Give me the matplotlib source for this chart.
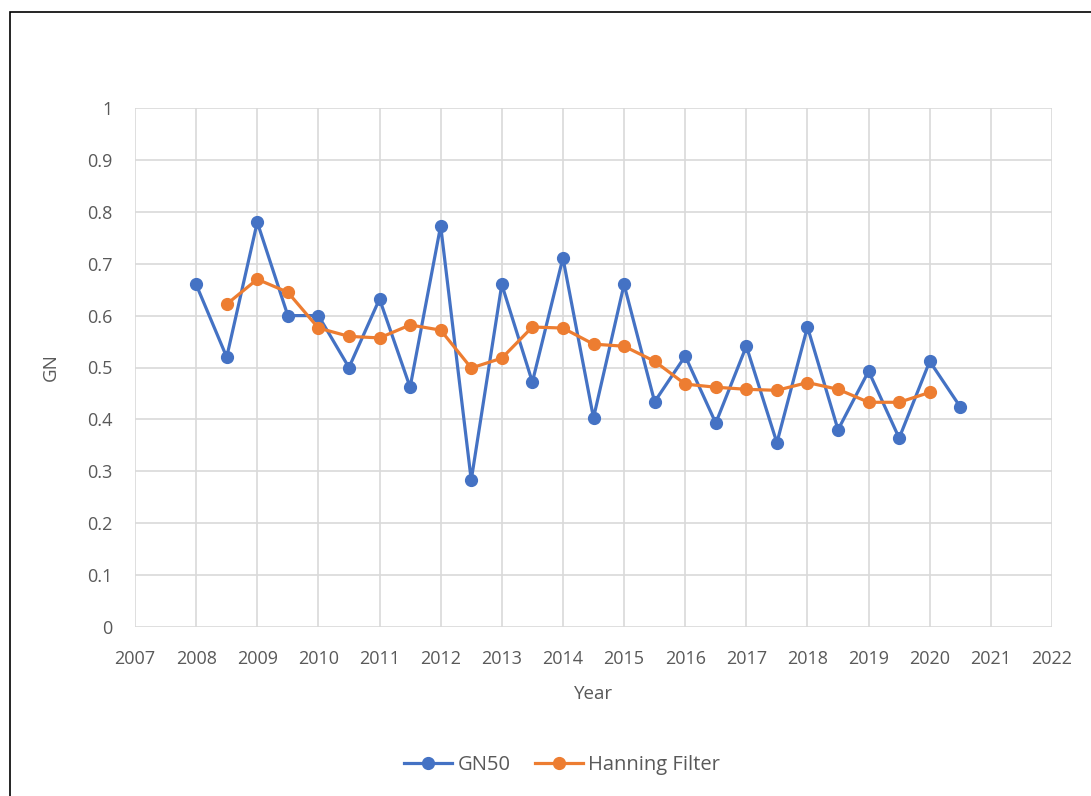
import matplotlib.pyplot as plt
from matplotlib.patches import Rectangle

# GN50 values (half-year steps)
gn_years = [2008, 2008.5, 2009, 2009.5, 2010, 2010.5, 2011, 2011.5, 2012, 2012.5,
            2013, 2013.5, 2014, 2014.5, 2015, 2015.5, 2016, 2016.5, 2017, 2017.5,
            2018, 2018.5, 2019, 2019.5, 2020, 2020.5]
gn50 = [0.66, 0.52, 0.78, 0.60, 0.60, 0.50, 0.632, 0.462, 0.773, 0.283,
        0.66, 0.472, 0.711, 0.403, 0.66, 0.434, 0.522, 0.393, 0.541, 0.355,
        0.578, 0.380, 0.493, 0.364, 0.512, 0.424]

# Hanning filtered series
han_years = gn_years[1:-1]
hanning = [0.622, 0.670, 0.645, 0.576, 0.560, 0.557, 0.582, 0.572, 0.499,
           0.518, 0.578, 0.576, 0.545, 0.541, 0.512, 0.468, 0.462, 0.458,
           0.456, 0.471, 0.458, 0.433, 0.433, 0.452]

plt.rcParams['font.family'] = ['Open Sans', 'DejaVu Sans']
txt = '#595959'

fig = plt.figure(figsize=(10.91, 7.96), dpi=100)
ax = fig.add_axes([135/1091, 1-627/796, (1052-135)/1091, (627-108)/796])

ax.plot(gn_years, gn50, color='#4472C4', lw=2.3, marker='o', ms=8.5, label='GN50', zorder=3)
ax.plot(han_years, hanning, color='#ED7D31', lw=2.3, marker='o', ms=8.5,
        label='Hanning Filter', zorder=4)

ax.set_xlim(2007, 2022)
ax.set_ylim(0, 1)
ax.set_xticks(range(2007, 2023))
ax.set_yticks([i / 10 for i in range(11)])
ax.set_yticklabels(['0'] + [f'{i/10:.1f}' for i in range(1, 10)] + ['1'])
ax.grid(True, color='#d9d9d9', lw=1.2)
ax.set_axisbelow(True)
for s in ax.spines.values():
    s.set_visible(False)
ax.tick_params(length=0, labelsize=13, labelcolor=txt)
ax.tick_params(axis='x', pad=16.5)
ax.tick_params(axis='y', pad=16)

ax.set_xlabel('Year', fontsize=13.5, color=txt, labelpad=12)
ax.set_ylabel('GN', fontsize=13.5, color=txt, labelpad=20)

ax.legend(loc='center', bbox_to_anchor=(562/1091, 1-765/796), bbox_transform=fig.transFigure,
          ncol=2, frameon=False, fontsize=14.5, labelcolor=txt, handlelength=2.4,
          columnspacing=1.2, handletextpad=0.25)

fig.patches.append(Rectangle((10/1091, -0.1), 1.2, 1.1 - 12/796, transform=fig.transFigure,
                             fill=False, edgecolor='black', lw=1.2))

fig.savefig('out.png', dpi=100)
